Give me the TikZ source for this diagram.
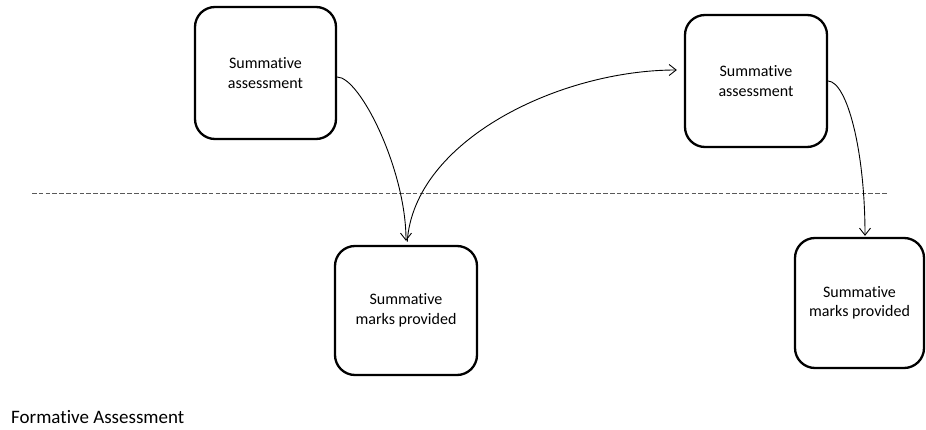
\documentclass[tikz,border=0pt]{standalone}
\usepackage{fontspec}
\setmainfont{Carlito}[Ligatures={NoCommon}]
\usetikzlibrary{arrows.meta,calc}
\tikzset{
  box/.style={draw=black, line width=2.3pt, rounded corners=20pt, align=center,
    font=\fontsize{16}{19.5}\selectfont, inner sep=0pt},
  conn/.style={draw=black, line width=0.9pt, -{Straight Barb[length=7pt,width=11pt,line width=0.9pt]}},
  sep/.style={draw=black!65, line width=0.9pt, dash pattern=on 4.5pt off 2.3pt},
  lbl/.style={font=\fontsize{19}{23}\selectfont, inner sep=0pt, anchor=west}
}
\begin{document}
\begin{tikzpicture}[x=1pt,y=-1pt]
\useasboundingbox (0,0) rectangle (926,430);
\node[box, minimum width=141pt, minimum height=132pt] (b1) at (265.5,73) {Summative\\assessment};
\node[box, minimum width=142pt, minimum height=129pt] (b2) at (406,310.5) {Summative\\marks provided};
\node[box, minimum width=142pt, minimum height=132pt] (b3) at (756,81) {Summative\\assessment};
\node[box, minimum width=129pt, minimum height=130pt] (b4) at (859.5,303) {Summative\\marks provided};
\coordinate (d1) at (32,193);
\coordinate (d2) at (887,193);
\draw[sep] (d1) -- (d2);
\draw[conn, shorten >=4pt] ([yshift=-4pt]b1.east) .. controls (360,77) and (406,170) .. (b2.north);
\draw[conn, shorten >=7pt, shorten <=3pt] ([xshift=1pt]b2.north) .. controls (414,140) and (560,70) .. ([yshift=11pt]b3.west);
\draw[conn, shorten >=1pt] (b3.east) .. controls (847,82) and (865,150) .. (b4.north -| 865,0);
\node[lbl] (fa) at (11,417) {Formative Assessment};
\end{tikzpicture}
\end{document}
